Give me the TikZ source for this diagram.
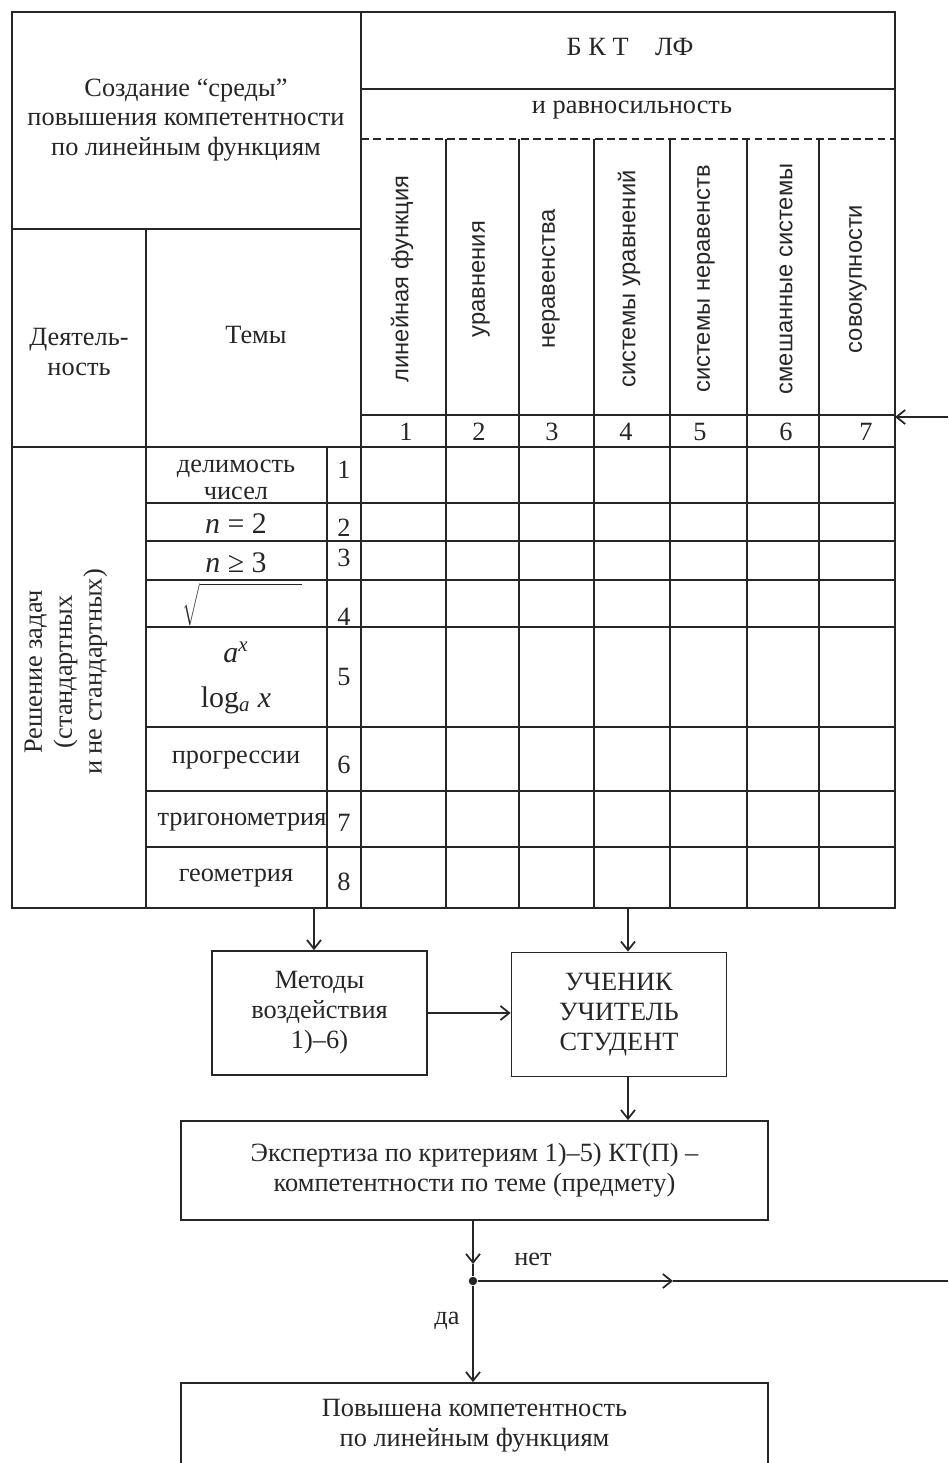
\documentclass[tikz,border=0pt]{standalone}
\usepackage{fontspec}
\setmainfont{Liberation Serif}
\newfontfamily\headsans{Liberation Sans}
\usetikzlibrary{arrows.meta}

\begin{document}
\begin{tikzpicture}[x=0.02cm,y=-0.02cm,color=black!85,line width=1pt,
    >={Straight Barb[length=5pt,width=8pt]},
    txt/.style={font=\fontsize{15}{17}\selectfont,align=center,inner sep=0pt},
    vhead/.style={rotate=90,font=\headsans\fontsize{13.5}{16}\selectfont,inner sep=0pt},
    mathtxt/.style={font=\fontsize{17}{19}\selectfont,inner sep=0pt},
    box/.style={draw,txt,minimum width=4.3cm,minimum height=2.48cm},
    widebox/.style={draw,txt,minimum width=11.74cm}]
    % 全体の大きさ
    \useasboundingbox (0,0) rectangle (948,1463);
    \clip (0,0) rectangle (948,1463);

    % 表の外枠と縦線
    \draw (12,12) rectangle (895,908);
    \draw (361,12) -- (361,908);
    \draw (146,229) -- (146,908);
    \draw (327,447) -- (327,908);
    \foreach \x in {446,519,594,670,747,819}
        \draw (\x,139) -- (\x,908);

    % 横線
    \draw (361,89) -- (895,89);
    \draw[dash pattern=on 4.5pt off 2.5pt] (361,139) -- (895,139);
    \draw (12,229) -- (361,229);
    \draw (361,415) -- (895,415);
    \draw (12,447) -- (895,447);
    \foreach \y in {503,541,580,627,727,791,847}
        \draw (146,\y) -- (895,\y);

    % 見出し
    \node[txt] (bkt) at (630,47) {Б К Т\quad ЛФ};
    \node[txt] (ravn) at (632,110) {и равносильность};
    \node[txt] (sreda) at (186,120) {Создание “среды”\\повышения компетентности\\по линейным функциям};
    \node[txt] (deyat) at (79,352) {Деятель-\\ность};
    \node[txt] (temy) at (256,335) {Темы};
    \node[txt,rotate=90] (reshenie) at (66,672) {Решение задач\\(стандартных\\и не стандартных)};

    % 縦書きの列見出しと番号
    \foreach \x/\t [count=\i] in {402/линейная функция,481/уравнения,551/неравенства,
        629/системы уравнений,706/системы неравенств,786/смешанные системы,858/совокупности}
        \node[vhead] (h\i) at (\x,279) {\t};
    \foreach \x [count=\i] in {406,479,552,626,700,786,866}
        \node[txt] (c\i) at (\x,432) {\i};

    % 行の番号とテーマ
    \foreach \y [count=\i] in {470,528,558,617,677,765,823,882}
        \node[txt] (r\i) at (344,\y) {\i};
    \node[txt] (t1) at (236,480) {делимость\\[-2pt]чисел};
    \node[mathtxt] (t2) at (236,524) {\textit{n} = 2};
    \node[mathtxt] (t3) at (236,563) {\textit{n} ≥ 3};
    \node[mathtxt] (t4) at (242,605) {$\sqrt{\rule{0pt}{23pt}\hspace{58pt}}$};
    \node[mathtxt] (t5a) at (236,652) {\textit{a}\textsuperscript{\textit{x}}};
    \node[mathtxt] (t5b) at (236,700) {log\textsubscript{\textit{a}} \textit{x}};
    \node[txt] (t6) at (236,760) {прогрессии};
    \node[txt] (t7) at (242,822) {тригонометрия};
    \node[txt] (t8) at (236,878) {геометрия};

    % 右からの矢印
    \coordinate (in1) at (948,417);
    \coordinate (in2) at (895,417);
    \draw[->] (in1) -- (in2);

    % ブロック
    \coordinate (a1) at (314,908);
    \coordinate (a2) at (628,908);
    \node[box] (metody) at (319.5,1013) {Методы\\воздействия\\1)–6)};
    \node[box] (uchenik) at (619,1014.5) {УЧЕНИК\\УЧИТЕЛЬ\\СТУДЕНТ};
    \draw[->] (a1) -- (a1 |- metody.north);
    \draw[->] (a2) -- (a2 |- uchenik.north);
    \draw[->] (metody.east) -- (metody.east -| uchenik.west);

    \node[widebox,minimum height=1.98cm] (ekspert) at (474.5,1170.5)
        {Экспертиза по критериям 1)–5) КТ(П) –\\компетентности по теме (предмету)};
    \draw[->] (uchenik.south -| a2) -- (ekspert.north -| a2);

    % 分岐
    \node[circle,fill,inner sep=0pt,minimum size=0.17cm] (junc) at (473,1281) {};
    \coordinate (d1) at (473,1264);
    \draw[->] (ekspert.south -| junc) -- (d1);
    \draw (d1) -- (junc);
    \coordinate (n1) at (673,1281);
    \coordinate (n2) at (948,1281);
    \draw[->] (junc) -- (n1);
    \draw (n1) -- (n2);
    \node[txt] (net) at (533,1259) {нет};
    \node[txt] (da) at (447,1321) {да};

    \node[widebox,minimum height=1.7cm] (povysh) at (474.5,1425.5)
        {Повышена компетентность\\по линейным функциям};
    \draw[->] (junc) -- (junc |- povysh.north);
    %
\end{tikzpicture}
\end{document}
